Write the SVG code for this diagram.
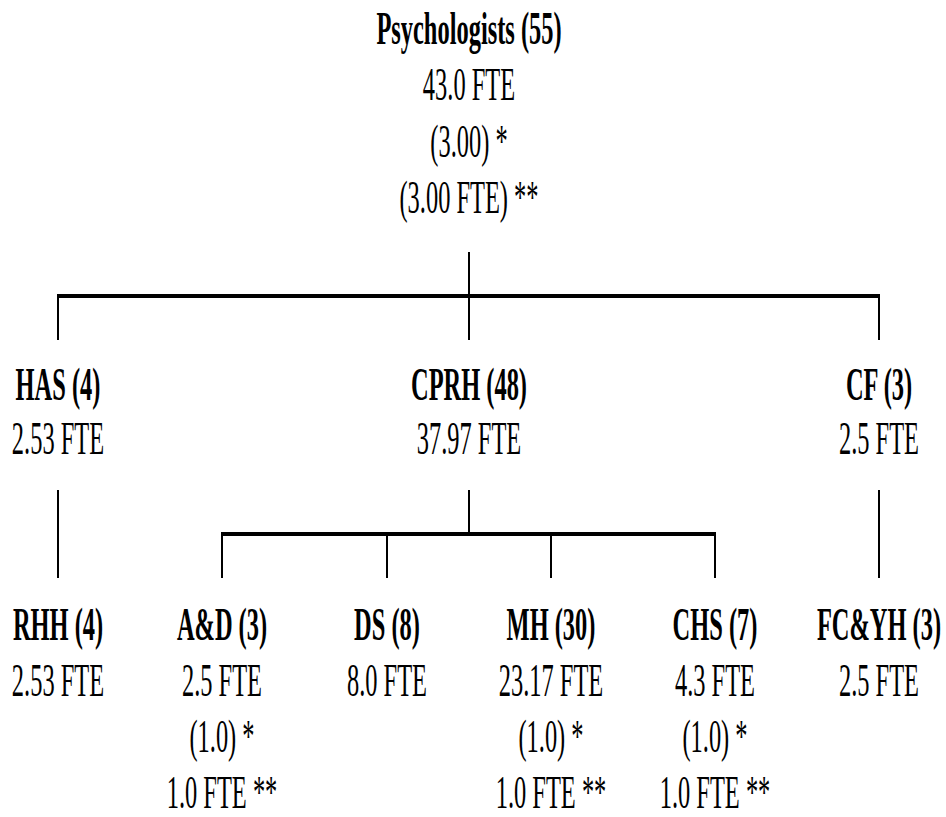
<svg xmlns="http://www.w3.org/2000/svg" width="946" height="817" viewBox="0 0 946 817">
<style>
text{font-family:"Liberation Serif","Times New Roman",serif;font-size:47px;text-anchor:middle;fill:#000}
.b{font-weight:bold}
.h{stroke:#000;stroke-width:4;fill:none}
.v{stroke:#000;stroke-width:2;fill:none}
</style>
<rect width="946" height="817" fill="#fff"/>
<g id="connectors">
<line class="v" x1="469" y1="252" x2="469" y2="340"/>
<line class="h" x1="57" y1="296" x2="880" y2="296"/>
<line class="v" x1="58" y1="294" x2="58" y2="340"/>
<line class="v" x1="879" y1="294" x2="879" y2="340"/>
<line class="v" x1="469" y1="490" x2="469" y2="534"/>
<line class="h" x1="221" y1="534" x2="716" y2="534"/>
<line class="v" x1="222" y1="532" x2="222" y2="578"/>
<line class="v" x1="387" y1="534" x2="387" y2="578"/>
<line class="v" x1="551" y1="534" x2="551" y2="578"/>
<line class="v" x1="715" y1="532" x2="715" y2="578"/>
<line class="v" x1="58" y1="490" x2="58" y2="578"/>
<line class="v" x1="879" y1="490" x2="879" y2="578"/>
</g>
<g id="psychologists" transform="translate(469,0) scale(0.52,1)">
<text class="b" y="44">Psychologists (55)</text>
<text y="100">43.0 FTE</text>
<text y="157">(3.00) *</text>
<text y="213">(3.00 FTE) **</text>
</g>
<g id="has" transform="translate(58,0) scale(0.52,1)">
<text class="b" y="400">HAS (4)</text>
<text y="454">2.53 FTE</text>
</g>
<g id="cprh" transform="translate(469,0) scale(0.52,1)">
<text class="b" y="400">CPRH (48)</text>
<text y="454">37.97 FTE</text>
</g>
<g id="cf" transform="translate(879,0) scale(0.52,1)">
<text class="b" y="400">CF (3)</text>
<text y="454">2.5 FTE</text>
</g>
<g id="rhh" transform="translate(58,0) scale(0.52,1)">
<text class="b" y="640">RHH (4)</text>
<text y="696">2.53 FTE</text>
</g>
<g id="ad" transform="translate(222,0) scale(0.52,1)">
<text class="b" y="640">A&amp;D (3)</text>
<text y="696">2.5 FTE</text>
<text y="752">(1.0) *</text>
<text y="808">1.0 FTE **</text>
</g>
<g id="ds" transform="translate(387,0) scale(0.52,1)">
<text class="b" y="640">DS (8)</text>
<text y="696">8.0 FTE</text>
</g>
<g id="mh" transform="translate(551,0) scale(0.52,1)">
<text class="b" y="640">MH (30)</text>
<text y="696">23.17 FTE</text>
<text y="752">(1.0) *</text>
<text y="808">1.0 FTE **</text>
</g>
<g id="chs" transform="translate(715,0) scale(0.52,1)">
<text class="b" y="640">CHS (7)</text>
<text y="696">4.3 FTE</text>
<text y="752">(1.0) *</text>
<text y="808">1.0 FTE **</text>
</g>
<g id="fcyh" transform="translate(879,0) scale(0.52,1)">
<text class="b" y="640">FC&amp;YH (3)</text>
<text y="696">2.5 FTE</text>
</g>
</svg>
